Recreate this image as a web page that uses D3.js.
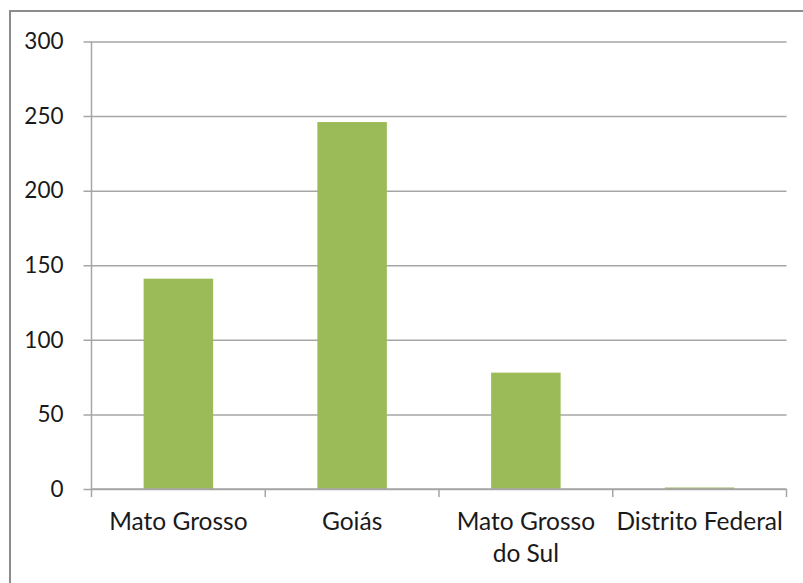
<!DOCTYPE html>
<html>
<head>
<meta charset="utf-8">
<script src="https://cdn.jsdelivr.net/npm/d3@7"></script>
<style>
  html, body { margin: 0; padding: 0; background: #fff; }
  svg { display: block; }
  text { font-family: Lato, "Open Sans", sans-serif; fill: #1a1a1a; }
</style>
</head>
<body>
<svg id="chart" width="803" height="583"></svg>
<script>
// Data
const categories = ["Mato Grosso", "Goiás", "Mato Grosso do Sul", "Distrito Federal"];
const categoryLines = [["Mato Grosso"], ["Goiás"], ["Mato Grosso", "do Sul"], ["Distrito Federal"]];
const values = [141, 246, 78, 1];
const yTicks = [0, 50, 100, 150, 200, 250, 300];

const svg = d3.select("#chart");
const W = 803, H = 583;
const plot = { left: 91.5, right: 786.5, top: 41.5, bottom: 489 };
const xFontSize = 24.5;
const yFontSize = 22.5;
const gridColor = "#a6a6a6";

// Outer frame (runs off right and bottom edges)
svg.append("rect")
  .attr("x", 10).attr("y", 11)
  .attr("width", W + 10).attr("height", H + 10)
  .attr("fill", "#fff")
  .attr("stroke", "#8c8c8c")
  .attr("stroke-width", 2);

const x = d3.scaleBand()
  .domain(categories)
  .range([plot.left, plot.right])
  .paddingInner(0.6)
  .paddingOuter(0.3);

const y = d3.scaleLinear()
  .domain([0, 300])
  .range([plot.bottom, plot.top]);

// Horizontal gridlines with short ticks on the left
const yAxis = d3.axisLeft(y)
  .tickValues(yTicks)
  .tickSize(-(plot.right - plot.left))
  .tickSizeOuter(0)
  .tickPadding(0)
  .tickFormat(d3.format("d"));

const gy = svg.append("g")
  .attr("transform", `translate(${plot.left},0)`)
  .call(yAxis);
gy.select(".domain").remove();
gy.selectAll(".tick line")
  .attr("x1", -8)
  .attr("stroke", gridColor)
  .attr("stroke-width", 1.5);
gy.selectAll(".tick text")
  .attr("x", -28)
  .attr("dy", "0.32em")
  .style("font-size", yFontSize + "px")
  .style("font-family", "Lato, 'Open Sans', sans-serif")
  .attr("fill", "#1a1a1a");

// Vertical axis line
svg.append("line")
  .attr("x1", plot.left).attr("x2", plot.left)
  .attr("y1", plot.top).attr("y2", plot.bottom)
  .attr("stroke", gridColor).attr("stroke-width", 1.5);

// Bars
svg.append("g").selectAll("rect")
  .data(values)
  .join("rect")
  .attr("x", (d, i) => x(categories[i]))
  .attr("width", x.bandwidth())
  .attr("y", d => y(d))
  .attr("height", d => y(0) - y(d))
  .attr("fill", "#9bbb59");

// Category axis: tick marks at band boundaries
const boundaries = d3.range(categories.length + 1)
  .map(i => plot.left + i * (plot.right - plot.left) / categories.length);
svg.append("g").selectAll("line")
  .data(boundaries)
  .join("line")
  .attr("x1", d => d).attr("x2", d => d)
  .attr("y1", plot.bottom).attr("y2", plot.bottom + 8)
  .attr("stroke", gridColor).attr("stroke-width", 1.5);

svg.append("line")
  .attr("x1", plot.left).attr("x2", plot.right)
  .attr("y1", plot.bottom).attr("y2", plot.bottom)
  .attr("stroke", gridColor).attr("stroke-width", 1.5);

// Category labels
const labels = svg.append("g").selectAll("text")
  .data(categories)
  .join("text")
  .attr("x", d => x(d) + x.bandwidth() / 2)
  .attr("y", 530)
  .attr("text-anchor", "middle")
  .style("font-size", xFontSize + "px");
labels.each(function(d, i) {
  const t = d3.select(this);
  categoryLines[i].forEach((line, j) => {
    t.append("tspan")
      .attr("x", x(d) + x.bandwidth() / 2)
      .attr("dy", j === 0 ? 0 : 31.7)
      .text(line);
  });
});
</script>
</body>
</html>
